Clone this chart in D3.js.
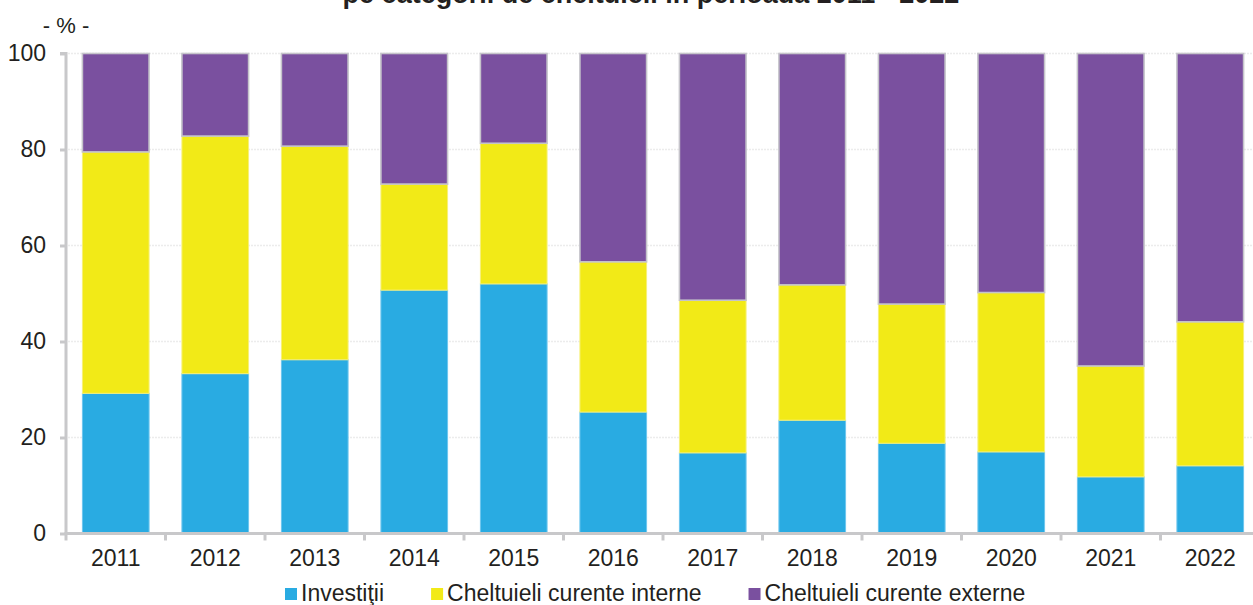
<!DOCTYPE html>
<html>
<head>
<meta charset="utf-8">
<script src="https://cdn.jsdelivr.net/npm/d3@7"></script>
<style>
  html, body { margin: 0; padding: 0; background: #fff; }
  svg { display: block; font-family: Arial, "Liberation Sans", sans-serif; }
</style>
</head>
<body>
<svg id="chart" width="1253" height="605"></svg>
<script>
const years = ['2011', '2012', '2013', '2014', '2015', '2016', '2017', '2018', '2019', '2020', '2021', '2022'];
// shares; each series is its own slice of the bar
const investitii = [29.2, 33.3, 36.2, 50.7, 52.0, 25.3, 16.8, 23.6, 18.8, 17.0, 11.8, 14.1];
const curenteInterne = [50.3, 49.5, 44.5, 22.1, 29.3, 31.3, 31.8, 28.2, 29.0, 33.2, 23.1, 30.0];
const curenteExterne = [20.5, 17.2, 19.3, 27.2, 18.7, 43.4, 51.4, 48.2, 52.2, 49.8, 65.1, 55.9];
const yTicks = [0, 20, 40, 60, 80, 100];

const seriesNames = ['Investiţii', 'Cheltuieli curente interne', 'Cheltuieli curente externe'];
const colors = ['#29abe2', '#f2ea17', '#7a509f'];
const strokes = ['#6cc6ee', '#f6f07a', '#c5c4ca'];

const svg = d3.select('#chart');
const textColor = '#231f20';
const axisColor = '#c8c8ca';

const x = d3.scaleBand().domain(years).range([66, 1260]).paddingInner(0.33).paddingOuter(0.165);
const y = d3.scaleLinear().domain([0, 100]).range([533.5, 53.5]);

const rows = years.map((yr, i) => ({
  year: yr,
  s0: investitii[i],
  s1: curenteInterne[i],
  s2: curenteExterne[i],
}));
const stacked = d3.stack().keys(['s0', 's1', 's2'])(rows);

// title, mostly cut off by the top edge (as in the source)
svg.append('text')
  .attr('x', 651).attr('y', 3)
  .attr('text-anchor', 'middle')
  .attr('font-size', 27).attr('font-weight', 'bold')
  .attr('fill', textColor)
  .text('pe categorii de cheltuieli în perioada 2011 - 2022');

svg.append('text')
  .attr('x', 66).attr('y', 33)
  .attr('text-anchor', 'middle')
  .attr('font-size', 22)
  .attr('fill', textColor)
  .text('- % -');

// grid
svg.append('g').selectAll('line').data(yTicks.slice(1))
  .join('line')
    .attr('x1', 68).attr('x2', 1253)
    .attr('y1', d => y(d)).attr('y2', d => y(d))
    .attr('stroke', '#ececec').attr('stroke-width', 1.5)
    .attr('stroke-dasharray', '2,1');

// bars
svg.append('g').selectAll('g').data(stacked)
  .join('g')
    .attr('fill', (d, i) => colors[i])
    .attr('stroke', (d, i) => strokes[i])
    .attr('stroke-width', (d, i) => i === 2 ? 1.6 : 1)
  .selectAll('rect').data(d => d)
  .join('rect')
    .attr('x', d => x(d.data.year))
    .attr('width', x.bandwidth())
    .attr('y', d => y(d[1]))
    .attr('height', d => y(d[0]) - y(d[1]));

// y axis
const yAxis = svg.append('g')
  .attr('transform', 'translate(66,0)')
  .call(d3.axisLeft(y).tickValues(yTicks).tickSize(6).tickPadding(14));
yAxis.select('.domain').attr('stroke', axisColor).attr('stroke-width', 3)
  .attr('d', `M-6,${y(100)}H0V${y(0)}`);
yAxis.selectAll('.tick line').attr('stroke', axisColor).attr('stroke-width', 3);
yAxis.selectAll('.tick text').attr('font-size', 23).attr('fill', textColor)
  .attr('font-family', 'Arial, "Liberation Sans", sans-serif');

// x axis, ticks sit between the bands
const xAxis = svg.append('g')
  .attr('transform', `translate(0,${y(0)})`)
  .call(d3.axisBottom(x).tickSize(0).tickPadding(16));
xAxis.select('.domain').attr('stroke', axisColor).attr('stroke-width', 3)
  .attr('d', 'M64.5,0H1260');
xAxis.selectAll('.tick text').attr('font-size', 23).attr('fill', textColor)
  .attr('font-family', 'Arial, "Liberation Sans", sans-serif');
xAxis.append('g').selectAll('line')
  .data(years.concat(['end']))
  .join('line')
    .attr('x1', (d, i) => 66 + i * x.step())
    .attr('x2', (d, i) => 66 + i * x.step())
    .attr('y1', 0).attr('y2', 7)
    .attr('stroke', axisColor).attr('stroke-width', 3);

// legend
const legend = svg.append('g').attr('font-size', 23).attr('fill', textColor);
let lx = 285;
seriesNames.forEach((name, i) => {
  legend.append('rect')
    .attr('x', lx).attr('y', 588).attr('width', 12).attr('height', 12)
    .attr('fill', colors[i]);
  const t = legend.append('text')
    .attr('x', lx + 16).attr('y', 601)
    .text(name);
  lx += 16 + t.node().getComputedTextLength() + 47;
});
</script>
</body>
</html>
